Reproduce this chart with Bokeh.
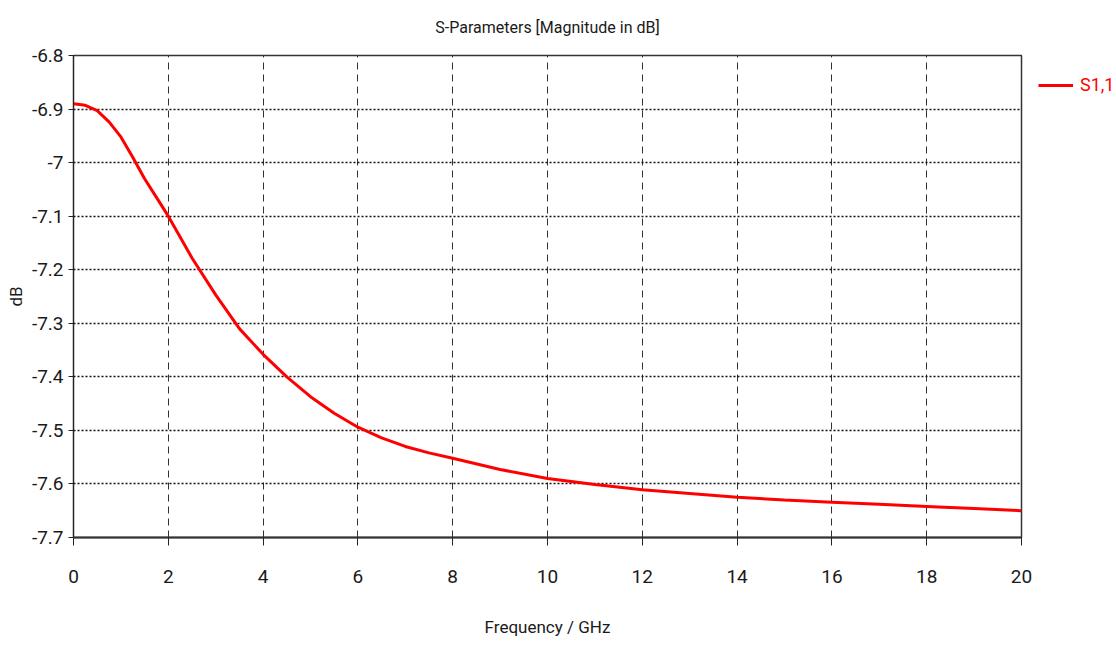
from bokeh.plotting import figure
from bokeh.models import Range1d, FixedTicker, Legend, LegendItem
from bokeh.embed import file_html
from bokeh.resources import INLINE

freq = [0, 0.25, 0.5, 0.75, 1.0, 1.25, 1.5, 1.75, 2.0, 2.5, 3.0, 3.5, 4.0, 4.5, 5.0, 5.5, 6.0,
        6.5, 7.0, 7.5, 8.0, 9.0, 10, 11, 12, 13, 14, 15, 16, 17, 18, 19, 20]
s11 = [-6.890, -6.893, -6.903, -6.924, -6.952, -6.990, -7.030, -7.065, -7.100, -7.178, -7.247,
       -7.310, -7.358, -7.400, -7.437, -7.468, -7.494, -7.514, -7.530, -7.542, -7.552, -7.573,
       -7.590, -7.601, -7.611, -7.618, -7.625, -7.630, -7.634, -7.638, -7.642, -7.646, -7.650]
x_ticks = [0, 2, 4, 6, 8, 10, 12, 14, 16, 18, 20]
y_ticks = [-6.8, -6.9, -7.0, -7.1, -7.2, -7.3, -7.4, -7.5, -7.6, -7.7]
y_tick_labels = ["-6.8", "-6.9", "-7", "-7.1", "-7.2", "-7.3", "-7.4", "-7.5", "-7.6", "-7.7"]
series_name = "S1,1"

FONT = "Roboto"
TXT = "#1a1a1a"

p = figure(frame_width=948, frame_height=482, x_range=Range1d(0, 20), y_range=Range1d(-7.7, -6.8),
           output_backend="svg", toolbar_location=None,
           min_border_left=73, min_border_right=95, min_border_top=54, min_border_bottom=109,
           title="S-Parameters [Magnitude in dB]")

p.title.align = "center"
p.title.text_font = FONT
p.title.text_font_size = "16px"
p.title.text_font_style = "normal"
p.title.text_color = TXT
p.title.vertical_align = "top"
p.title.standoff = 34

r = p.line(freq, s11, line_color="#ff0000", line_width=3)

p.xaxis.ticker = FixedTicker(ticks=x_ticks)
p.yaxis.ticker = FixedTicker(ticks=y_ticks)
p.yaxis.major_label_overrides = dict(zip(y_ticks, y_tick_labels))

for ax in (p.xaxis[0], p.yaxis[0]):
    ax.major_label_text_font = FONT
    ax.major_label_text_font_size = "19px"
    ax.major_label_text_color = TXT
    ax.axis_label_text_font = FONT
    ax.axis_label_text_font_size = "17px"
    ax.axis_label_text_font_style = "normal"
    ax.axis_label_text_color = TXT
    ax.minor_tick_line_color = None
    ax.major_tick_in = 0
    ax.major_tick_line_color = "#222222"

p.xaxis.axis_label = "Frequency / GHz"
p.xaxis.major_tick_out = 8
p.xaxis.major_label_standoff = 24
p.xaxis.axis_label_standoff = 31
p.xaxis.axis_line_width = 2
p.xaxis.axis_line_color = "#333333"

p.yaxis.axis_label = "dB"
p.yaxis.major_tick_out = 5
p.yaxis.major_label_standoff = 5
p.yaxis.axis_label_standoff = 3
p.yaxis.axis_line_color = "#222222"

p.outline_line_color = "#333333"
p.outline_line_width = 1.5

p.xgrid.grid_line_color = "#333333"
p.xgrid.grid_line_dash = "7 5"
p.xgrid.grid_line_width = 1
p.ygrid.grid_line_color = "#111111"
p.ygrid.grid_line_dash = "2 2"
p.ygrid.grid_line_width = 1.5

legend = Legend(items=[LegendItem(label=series_name, renderers=[r])],
                location=(17, 442), border_line_color=None, background_fill_alpha=0,
                label_text_font=FONT, label_text_font_size="18px", label_text_color="#ff0000",
                glyph_width=35, label_standoff=7, padding=0, margin=0, spacing=0)
p.add_layout(legend, "right")

open("out.html", "w").write(file_html(p, INLINE))
